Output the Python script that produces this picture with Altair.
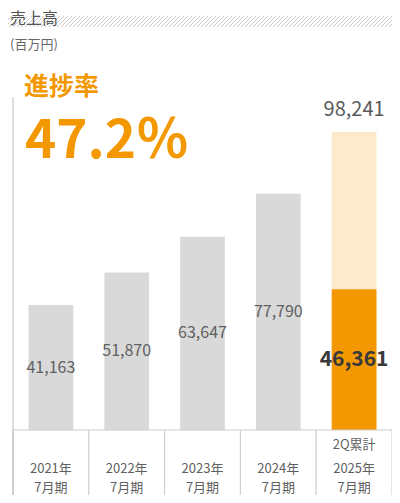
import altair as alt
import pandas as pd

# ---- data ----
categories = ["2021", "2022", "2023", "2024", "2025"]
year_labels = ["2021年", "2022年", "2023年", "2024年", "2025年"]
period_labels = ["7月期", "7月期", "7月期", "7月期", "7月期"]
note_labels = ["", "", "", "", "2Q累計"]
sales = [41163, 51870, 63647, 77790, 46361]
forecast_2025 = 98241
title_text = "売上高"
unit_text = "(百万円)"
progress_label = "進捗率"
progress_value = "47.2％"

FONT = "Noto Sans CJK JP"
ORANGE = "#F39800"
LIGHT = "#FDE9CB"
GRAY = "#D9D9D9"
LINE = "#CCCCCC"

df = pd.DataFrame({
    "cat": categories,
    "value": sales,
    "year": year_labels,
    "period": period_labels,
    "note": note_labels,
})
df["mid"] = df["value"] / 2
target = pd.DataFrame({"cat": [categories[-1]], "value": [forecast_2025]})

PL = 5          # left padding
W, H = 379, 422  # plot area
PB = 65         # table area below plot
xscale = alt.Scale(domain=categories, paddingInner=0, paddingOuter=0)
yscale = alt.Scale(domain=[0, 139000], nice=False, zero=True)
X = alt.X("cat:N", scale=xscale, axis=None)

base = alt.Chart(df)

target_bar = alt.Chart(target).mark_bar(width=alt.RelativeBandSize(0.59), color=LIGHT).encode(
    x=X, y=alt.Y("value:Q", scale=yscale, axis=None)
)
target_text = alt.Chart(target).mark_text(font=FONT, fontSize=20, color="#595959", baseline="bottom", dy=-12).encode(
    x=X, y=alt.Y("value:Q", scale=yscale), text=alt.Text("value:Q", format=",")
)

bars = base.mark_bar(width=alt.RelativeBandSize(0.59)).encode(
    x=X,
    y=alt.Y("value:Q", scale=yscale, axis=None),
    color=alt.condition(alt.datum.cat == categories[-1], alt.value(ORANGE), alt.value(GRAY)),
)

labels = base.transform_filter(alt.datum.cat != categories[-1]).mark_text(
    font=FONT, fontSize=16, color="#5f5f5f", baseline="middle"
).encode(x=X, y=alt.Y("mid:Q", scale=yscale), text=alt.Text("value:Q", format=","))

label_last = base.transform_filter(alt.datum.cat == categories[-1]).mark_text(
    font=FONT, fontSize=21, fontWeight="bold", color="#3a3a3a", baseline="middle"
).encode(x=X, y=alt.Y("mid:Q", scale=yscale), text=alt.Text("value:Q", format=","))

# table cells below the bars
cells = base.mark_rect(fill="white", stroke=LINE, strokeWidth=1).encode(
    x=X, y=alt.value(H), y2=alt.value(H + PB + 5)
)
axis_line = alt.Chart(alt.Data(values=[{"a": 1}])).mark_rule(color="#BBBBBB", strokeWidth=1).encode(
    x=alt.value(0), y=alt.value(89), y2=alt.value(H + PB)
)

txt = dict(font=FONT, fontSize=13, color="#5f5f5f", baseline="middle")
note_t = base.mark_text(**txt).encode(x=X, y=alt.value(437), text="note:N")
year_t = base.mark_text(**txt).encode(x=X, y=alt.value(461), text="year:N")
period_t = base.mark_text(**txt).encode(x=X, y=alt.value(479.5), text="period:N")

# header decoration: hatched band (diagonal strokes)
hatch = alt.Chart(alt.sequence(-16, 384, 4, as_="i")).mark_rule(
    color="#CBCBCB", strokeWidth=1,
).encode(
    x={"value": {"expr": "datum.i"}},
    x2={"value": {"expr": "datum.i + 11"}},
    y=alt.value(19), y2=alt.value(8),
)

title_t = alt.Chart(alt.Data(values=[{"t": title_text}])).mark_text(
    font=FONT, fontSize=16, color="#555555", align="left", baseline="top"
).encode(text="t:N", x=alt.value(-3), y=alt.value(3))
unit_t = alt.Chart(alt.Data(values=[{"t": unit_text}])).mark_text(
    font=FONT, fontSize=13, color="#666666", align="left", baseline="middle"
).encode(text="t:N", x=alt.value(-3), y=alt.value(37))
prog_l = alt.Chart(alt.Data(values=[{"t": progress_label}])).mark_text(
    font=FONT, fontSize=25, fontWeight="bold", color=ORANGE, align="left", baseline="middle"
).encode(text="t:N", x=alt.value(11), y=alt.value(79))
prog_v = alt.Chart(alt.Data(values=[{"t": progress_value}])).mark_text(
    font=FONT, fontSize=53, fontWeight="bold", color=ORANGE, align="left", baseline="alphabetic"
).encode(text="t:N", x=alt.value(12), y=alt.value(150))

chart = alt.layer(
    hatch, title_t, unit_t, prog_l, prog_v,
    target_bar, bars, cells, axis_line,
    target_text, labels, label_last, note_t, year_t, period_t,
).properties(
    width=W, height=H,
    padding={"left": PL, "top": 0, "right": 0, "bottom": PB},
    autosize=alt.AutoSizeParams(type="none"),
).configure_view(stroke=None)

chart.save("out.html", embed_options={"renderer": "svg", "actions": False})
